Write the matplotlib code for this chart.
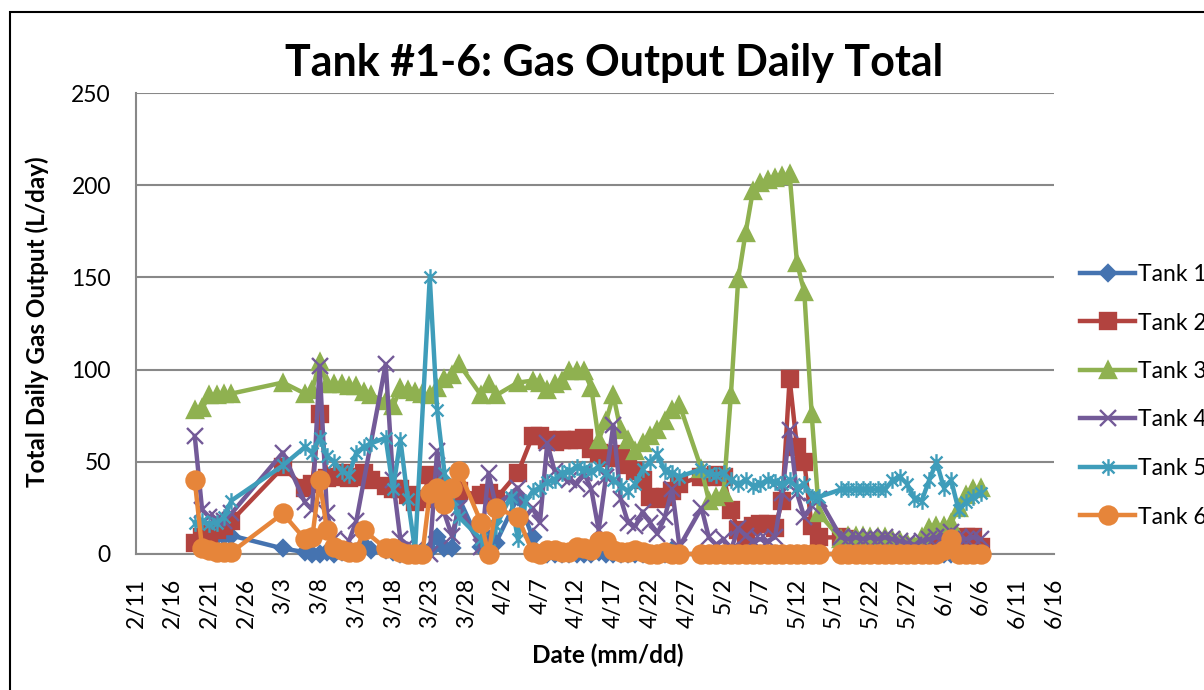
import numpy as np
import pandas as pd
import matplotlib
matplotlib.use("Agg")
import matplotlib.pyplot as plt
from matplotlib.path import Path
from matplotlib.patches import Rectangle

plt.rcParams['font.family'] = ['Lato', 'DejaVu Sans']

N = None

# measurement dates (mm/dd, 2013)
dates = ["2/19", "2/20", "2/21", "2/22", "2/23", "2/24",
         "3/3", "3/6", "3/7", "3/8", "3/9", "3/10", "3/11", "3/12", "3/13", "3/14", "3/15",
         "3/17", "3/18", "3/19", "3/20", "3/21", "3/22", "3/23", "3/24", "3/25", "3/26", "3/27",
         "3/30", "3/31", "4/1", "4/3", "4/4", "4/5",
         "4/6", "4/7", "4/8", "4/9", "4/10", "4/11", "4/12", "4/13", "4/14", "4/15", "4/16",
         "4/17", "4/18", "4/19", "4/20", "4/21", "4/22", "4/23", "4/24", "4/25", "4/26",
         "4/29", "4/30", "5/1", "5/2", "5/3", "5/4", "5/5", "5/6", "5/7", "5/8", "5/9",
         "5/10", "5/11", "5/12", "5/13", "5/14", "5/15",
         "5/18", "5/19", "5/20", "5/21", "5/22", "5/23", "5/24", "5/25", "5/26", "5/27",
         "5/28", "5/29", "5/30", "5/31", "6/1", "6/2", "6/3", "6/4", "6/5", "6/6"]

# daily gas output, L/day
tank1 = [N, 10, 11, 10, 10, 10,
         3, 1, 0, 0, 1, 0, 1, 2, 1, 5, 2,
         2, 1, 0, 0, 0, N, 2, 9, 3, 3, 30,
         4, 8, 6, N, 31, N,
         9, 0, 0, 0, 0, 0, 0, 0, 0, 1, 0, 0, 0, 0, 0, 0, 0, 0, 0, 2, 0,
         0, 0, 0, 0, 0, 0, 0, 0, 0, 0, 0, 0, 0, 0, 0, 0, 0,
         0, 0, 0, 0, 0, 0, 0, 0, 0, 0, 0, 0, 0, 0, 0, 0, 0, 0, 0, 0]
tank2 = [6, 9, 11, 13, 15, 18,
         47, 36, 38, 76, 41, 42, 44, 41, 42, 44, 40,
         37, 35, 35, 32, 28, 30, 43, 41, 35, 36, 34,
         32, 33, 30, N, 44, N,
         64, 64, 62, 61, 62, 62, 62, 63, 57, 55, 52, 54, 52, 48, 45, 40, 31, 30, 31, 34, 38,
         42, 42, 43, 42, 24, 13, 8, 15, 16, 16, 14, 29, 95, 58, 50, 15, 9,
         9, 8, 6, 5, 5, 5, 5, 4, 4, 4, 3, 3, 3, 3, 3, 4, 5, 9, 9, 4]
tank3 = [78, 79, 86, 86, 87, 87,
         93, 87, 89, 104, 92, 92, 92, 91, 91, 88, 86,
         83, 80, 90, 89, 88, 87, 86, 90, 95, 97, 103,
         86, 92, 86, N, 93, N,
         94, 93, 89, 92, 94, 99, 99, 99, 90, 62, 72, 86, 67, 62, 56, 60, 64, 67, 72, 78, 81,
         46, 29, 31, 33, 86, 149, 174, 197, 201, 203, 204, 205, 206, 158, 142, 76, 22,
         8, 10, 10, 10, 9, 9, 9, 8, 7, 6, 5, 9, 14, 15, 15, 17, 25, 32, 35, 36]
tank4 = [64, 24, 20, 19, 18, 22,
         55, 28, 24, 102, 22, 8, 3, 7, 18, N, N,
         103, 40, 8, 5, 2, N, 0, 56, 22, 10, 25,
         4, 44, 26, N, 36, 20,
         25, 17, 60, 45, 42, 40, 38, 44, 35, 13, 42, 70, 30, 17, 15, 23, 17, 11, 20, 35, 4,
         25, 9, 5, 8, 2, 14, 10, 7, 8, 7, 9, 33, 67, 33, 20, 26, 30,
         9, 8, 9, 8, 9, 8, 9, 8, 7, 6, 5, 7, 8, 9, 10, 12, 9, 8, 9, 8]
tank5 = [17, 18, 16, 17, 20, 29,
         48, 58, 55, 63, 53, 50, 45, 43, 55, 58, 60,
         63, 35, 62, 30, 2, N, 150, 78, 44, 30, 20,
         8, 2, 15, 31, 8, 28,
         34, 36, 39, 40, 44, 45, 47, 46, 45, 47, 44, 40, 37, 34, 38, 46, 50, 54, 45, 44, 42,
         46, 44, 43, 44, 40, 38, 40, 37, 38, 40, 39, 38, 40, 36, 38, 31, 31,
         35, 35, 35, 35, 35, 35, 35, 40, 42, 38, 30, 29, 40, 50, 36, 40, 24, 28, 31, 33]
tank6 = [40, 3, 2, 1, 1, 1,
         22, 8, 9, 40, 13, 4, 2, 1, 1, 13, N,
         3, 3, 1, 0, 0, 0, 33, 36, 27, 36, 45,
         17, 0, 25, N, 20, N,
         1, 0, 2, 2, 1, 1, 4, 3, 2, 7, 7, 2, 1, 1, 2, 1, 0, 0, 1, 0, 0,
         0, 0, 0, 0, 0, 0, 0, 0, 0, 0, 0, 0, 0, 0, 0, 0, 0,
         0, 0, 0, 0, 0, 0, 0, 0, 0, 0, 0, 0, 0, 0, 2, 8, 0, 0, 0, 0]

names = ["Tank 1", "Tank 2", "Tank 3", "Tank 4", "Tank 5", "Tank 6"]
series = [tank1, tank2, tank3, tank4, tank5, tank6]

# excel "star" marker: x with a vertical bar
star = Path([(0, -1), (0, 1), (-0.72, -0.72), (0.72, 0.72), (-0.72, 0.72), (0.72, -0.72)],
            [Path.MOVETO, Path.LINETO] * 3)

colors = ['#4573B0', '#B2433F', '#8FB150', '#735A98', '#3F9DBA', '#E6853A']
markers = ['D', 's', '^', 'x', star, 'o']
msizes = [8.5, 11.5, 11.5, 11, 12, 13]

x = pd.to_datetime(["2013/" + d for d in dates], format="%Y/%m/%d")

W, H = 1204, 690
fig = plt.figure(figsize=(W / 100, H / 100), dpi=100)
ax = fig.add_axes([136 / W, 1 - 554 / H, (1054 - 136) / W, (554 - 93) / H])

grey = '#888888'
for i in range(6):
    v = np.array([np.nan if a is None else a for a in series[i]], dtype=float)
    ok = ~np.isnan(v)
    ax.plot(x[ok], v[ok], color=colors[i], lw=3.2, marker=markers[i], ms=msizes[i],
            mec=colors[i], mfc=colors[i], mew=1.7, clip_on=False, zorder=3 + i,
            label=names[i])

ax.set_ylim(0, 250)
ax.set_yticks(range(0, 251, 50))
ticks = pd.date_range("2013-02-11", "2013-06-16", freq="5D")
ax.set_xlim(ticks[0], pd.Timestamp("2013-06-16"))
ax.set_xticks(ticks)
ax.set_xticklabels([f"{t.month}/{t.day}" for t in ticks], rotation=90)
ax.grid(axis='y', color=grey, lw=1.5)
ax.set_axisbelow(True)
for s in ['top', 'right']:
    ax.spines[s].set_visible(False)
for s in ['left', 'bottom']:
    ax.spines[s].set_color(grey)
    ax.spines[s].set_linewidth(1.5)
ax.tick_params(axis='both', length=0, labelsize=16.5)
ax.tick_params(axis='y', pad=18)
ax.tick_params(axis='x', pad=17)

fig.text(614 / W, 1 - 63 / H, "Tank #1-6: Gas Output Daily Total", ha='center', va='center',
         fontsize=31, fontweight='bold')
fig.text(37 / W, 1 - 322 / H, "Total Daily Gas Output (L/day)", rotation=90, ha='center',
         va='center', fontsize=17.5, fontweight='bold')
fig.text(608 / W, 1 - 655 / H, "Date (mm/dd)", ha='center', va='center', fontsize=17.5,
         fontweight='bold')

fig.legend(loc='upper left', bbox_to_anchor=(1080 / W, 1 - 264 / H), frameon=False,
           fontsize=16.5, handlelength=2.4, handletextpad=0.15, labelspacing=1.2,
           borderpad=0, borderaxespad=0, numpoints=1)

fig.add_artist(Rectangle((10 / W, -0.1), 1.2, 1.1 - 12 / H, transform=fig.transFigure,
                         fill=False, ec='black', lw=1.5))

fig.savefig("out.png", dpi=100)
